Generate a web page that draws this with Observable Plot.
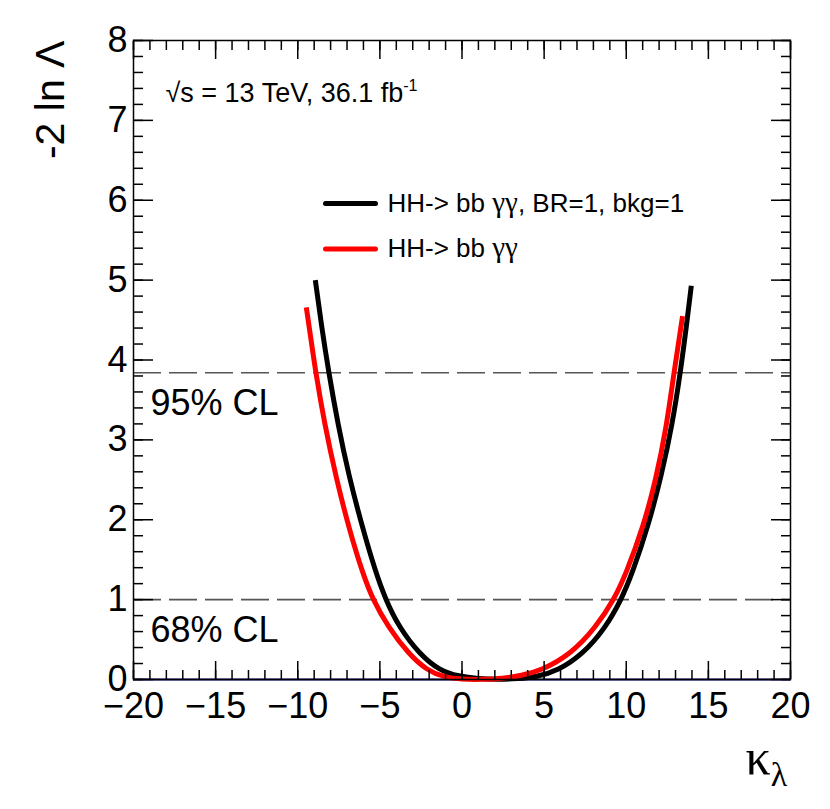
<!DOCTYPE html>
<html>
<head>
<meta charset="utf-8">
<script src="https://cdn.jsdelivr.net/npm/d3@7"></script>
<script src="https://cdn.jsdelivr.net/npm/@observablehq/plot@0.6"></script>
<style>
  html, body { margin: 0; padding: 0; background: white; }
</style>
</head>
<body>
<div id="chart"></div>
<script>
// ---- data ----
const blackK = [-8.93, -8.57, -8.12, -7.55, -6.9, -6.1, -5.27, -4.65, -3.85, -2.6, -1.35, -0.2, 1.0, 2.2, 3.4, 4.5, 5.84, 7.36, 8.68, 9.7, 10.35, 11.35, 12.15, 12.8, 13.3, 13.68, 13.96];
const blackNLL = [5.0, 4.45, 3.85, 3.19, 2.56, 1.93, 1.35, 1.0, 0.66, 0.32, 0.11, 0.04, 0.01, 0.0, 0.01, 0.03, 0.11, 0.32, 0.63, 1.0, 1.32, 1.93, 2.56, 3.19, 3.85, 4.45, 4.93];

const redK = [-9.48, -9.18, -8.91, -8.37, -7.66, -6.84, -6.03, -5.43, -4.5, -3.25, -2.1, -1.1, 0.0, 1.2, 2.5, 3.6, 4.8, 6.65, 8.17, 9.25, 9.96, 11.05, 11.8, 12.44, 12.91, 13.43];
const redNLL = [4.66, 4.24, 3.85, 3.2, 2.52, 1.86, 1.32, 1.0, 0.66, 0.32, 0.11, 0.03, 0.0, 0.0, 0.01, 0.05, 0.11, 0.32, 0.66, 1.0, 1.31, 1.92, 2.5, 3.15, 3.85, 4.55];

const legendLabels = ["HH-> bb γγ, BR=1, bkg=1", "HH-> bb γγ"];
const seriesColors = ["#000000", "#ff0000"];

const clLevels = [3.84, 1];
const clLabels = ["95% CL", "68% CL"];

const xMajor = [-20, -15, -10, -5, 0, 5, 10, 15, 20];
const xMinor = d3.range(-20, 20.001, 1);
const yMajor = [0, 1, 2, 3, 4, 5, 6, 7, 8];
const yMinor = d3.range(0, 8.001, 0.2);

const headerText = "√s = 13 TeV, 36.1 fb";
const headerSup = "-1";
const yLabel = "-2 ln Λ";
const xLabelMain = "κ";
const xLabelSub = "λ";

// ---- build ----
const blackSeries = blackK.map((k, i) => ({k, v: blackNLL[i]}));
const redSeries = redK.map((k, i) => ({k, v: redNLL[i]}));

const hLine = { draw(ctx, l) { ctx.moveTo(0, 0); ctx.lineTo(l, 0); } };
const empty = () => "";
const tickStyle = {strokeWidth: 1.5, label: null};
const serif = "'Liberation Serif', 'DejaVu Serif', serif";

const chart = Plot.plot({
  width: 830,
  height: 809,
  marginLeft: 133,
  marginRight: 40,
  marginTop: 40,
  marginBottom: 130,
  x: {domain: [-20, 20]},
  y: {domain: [0, 8]},
  style: {fontFamily: "'Liberation Sans', Arial, sans-serif", fontSize: "36px", background: "white", color: "black", overflow: "visible"},
  marks: [
    Plot.ruleY(clLevels, {stroke: "#555555", strokeWidth: 1.6, strokeDasharray: "28,8"}),
    Plot.text(clLevels, {x: -20, y: d => d, text: (d, i) => clLabels[i], dx: 17, dy: 17, lineAnchor: "top", textAnchor: "start", fontSize: 36}),
    Plot.ruleY([0], {stroke: "#000080", strokeWidth: 2.2}),
    Plot.line(blackSeries, {x: "k", y: "v", stroke: seriesColors[0], strokeWidth: 5, curve: "basis", strokeLinecap: "butt"}),
    Plot.line(redSeries, {x: "k", y: "v", stroke: seriesColors[1], strokeWidth: 5, curve: "basis", strokeLinecap: "butt"}),
    Plot.frame({stroke: "black", strokeWidth: 1.5}),
    // ticks (ROOT style, inward on all sides)
    Plot.axisX({...tickStyle, ticks: xMinor, anchor: "bottom", tickSize: -9, tickFormat: empty}),
    Plot.axisX({...tickStyle, ticks: xMajor, anchor: "bottom", tickSize: -18, tickFormat: empty}),
    Plot.axisX({...tickStyle, ticks: xMinor, anchor: "top", tickSize: -9, tickFormat: empty}),
    Plot.axisX({...tickStyle, ticks: xMajor, anchor: "top", tickSize: -18, tickFormat: empty}),
    Plot.axisY({...tickStyle, ticks: yMinor, anchor: "left", tickSize: -10, tickFormat: empty}),
    Plot.axisY({...tickStyle, ticks: yMajor, anchor: "left", tickSize: -20, tickFormat: empty}),
    Plot.axisY({...tickStyle, ticks: yMinor, anchor: "right", tickSize: -10, tickFormat: empty}),
    Plot.axisY({...tickStyle, ticks: yMajor, anchor: "right", tickSize: -20, tickFormat: empty}),
    // tick labels
    Plot.axisX({ticks: xMajor, anchor: "bottom", tickSize: 0, tickPadding: 13, fontSize: 36, label: null}),
    Plot.axisY({ticks: yMajor, anchor: "left", tickSize: 0, tickPadding: 6, fontSize: 36, label: null}),
    // axis titles
    Plot.text([yLabel], {frameAnchor: "top-left", dx: -83, dy: 0, rotate: -90, textAnchor: "end", lineAnchor: "middle", fontSize: 41}),
    Plot.text([xLabelMain], {frameAnchor: "bottom-right", dx: -45, dy: 78, textAnchor: "start", lineAnchor: "middle", fontSize: 50, fontFamily: serif, className: "xlab"}),
    // header
    Plot.text([headerText], {frameAnchor: "top-left", dx: 32, dy: 53, textAnchor: "start", lineAnchor: "middle", fontSize: 27, className: "hdr"}),
    // legend
    Plot.vector([0], {frameAnchor: "top-left", dx: 192, dy: 163, length: 50, rotate: 0, anchor: "start", shape: hLine, stroke: seriesColors[0], strokeWidth: 5}),
    Plot.vector([0], {frameAnchor: "top-left", dx: 192, dy: 208.5, length: 50, rotate: 0, anchor: "start", shape: hLine, stroke: seriesColors[1], strokeWidth: 5}),
    Plot.text([legendLabels[0]], {frameAnchor: "top-left", dx: 254, dy: 163, textAnchor: "start", lineAnchor: "middle", fontSize: 26, className: "leg"}),
    Plot.text([legendLabels[1]], {frameAnchor: "top-left", dx: 254, dy: 208.5, textAnchor: "start", lineAnchor: "middle", fontSize: 26, className: "leg"})
  ]
});

// sub/superscripts and Greek glyphs in a serif face, as in the ROOT original
d3.select(chart).select(".xlab text").append("tspan").attr("font-size", 34).attr("dy", 12).text(xLabelSub);
d3.select(chart).select(".hdr text").append("tspan").attr("font-size", 16).attr("dy", -11).text(headerSup);
d3.select(chart).selectAll(".leg text").each(function () {
  const t = d3.select(this);
  const s = this.textContent;
  t.text(null);
  s.split(/(γ+)/).filter(p => p.length).forEach(p => {
    const ts = t.append("tspan").text(p);
    if (p.startsWith("γ")) ts.attr("font-family", serif).attr("font-size", 29);
  });
});

document.getElementById("chart").appendChild(chart);
</script>
</body>
</html>
